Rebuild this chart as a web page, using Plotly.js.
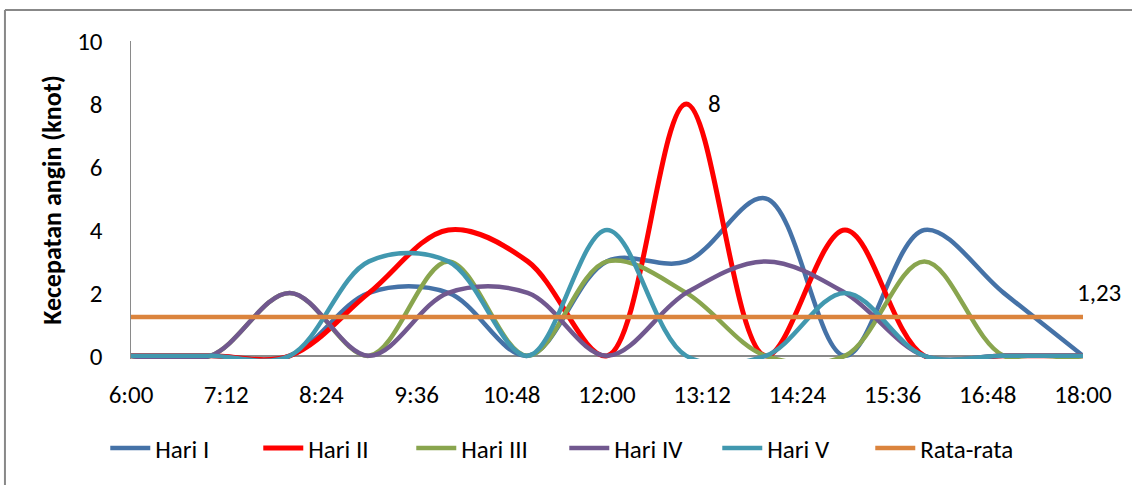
<!DOCTYPE html>
<html>
<head>
<meta charset="utf-8">
<script src="https://cdn.plot.ly/plotly-3.0.1.min.js"></script>
<style>
  html, body { margin: 0; padding: 0; background: #ffffff; }
  #chart { width: 1132px; height: 485px; }
</style>
</head>
<body>
<div id="chart"></div>
<script>
// Hours of observation (6:00 .. 18:00)
const hours = [6, 7, 8, 9, 10, 11, 12, 13, 14, 15, 16, 17, 18];
// Wind speed (knot) per day
const hariI   = [0, 0, 0, 2, 2, 0, 3, 3, 5, 0, 4, 2, 0];
const hariII  = [0, 0, 0, 2, 4, 3, 0, 8, 0, 4, 0, 0, 0];
const hariIII = [0, 0, 2, 0, 3, 0, 3, 2, 0, 0, 3, 0, 0];
const hariIV  = [0, 0, 2, 0, 2, 2, 0, 2, 3, 2, 0, 0, 0];
const hariV   = [0, 0, 0, 3, 3, 0, 4, 0, 0, 2, 0, 0, 0];
const rataRata = [1.23, 1.23, 1.23, 1.23, 1.23, 1.23, 1.23, 1.23, 1.23, 1.23, 1.23, 1.23, 1.23];
// X-axis tick labels
const tickVals = [6, 7.2, 8.4, 9.6, 10.8, 12, 13.2, 14.4, 15.6, 16.8, 18];
const tickText = ["6:00", "7:12", "8:24", "9:36", "10:48", "12:00", "13:12", "14:24", "15:36", "16:48", "18:00"];
const seriesNames = ["Hari I", "Hari II", "Hari III", "Hari IV", "Hari V", "Rata-rata"];

const FONT = "Carlito, Lato, 'Liberation Sans', sans-serif";
const FS = 25;
const colors = ["#4572A7", "#FF0000", "#89A54E", "#71588F", "#4198AF", "#DB843D"];
const allData = [hariI, hariII, hariIII, hariIV, hariV, rataRata];

const traces = allData.map((ys, i) => ({
  x: hours,
  y: ys,
  name: seriesNames[i],
  type: "scatter",
  mode: "lines",
  line: { color: colors[i], width: i === 1 ? 5 : 4.5, shape: i === 5 ? "linear" : "spline", smoothing: 1 },
  hoverinfo: "x+y+name"
}));

// data labels: max of Hari II and last value of Rata-rata
const maxII = Math.max(...hariII);
const idxMax = hariII.indexOf(maxII);
const lastRata = rataRata[rataRata.length - 1];

const layout = {
  width: 1132,
  height: 485,
  margin: { l: 131, r: 49, t: 41, b: 126 },
  paper_bgcolor: "#ffffff",
  plot_bgcolor: "#ffffff",
  font: { family: FONT, size: FS, color: "#000000" },
  showlegend: true,
  xaxis: {
    range: [6, 18],
    tickvals: tickVals,
    ticktext: tickText,
    showgrid: false,
    zeroline: false,
    showline: false,
    ticks: "",
    ticklabelstandoff: 18,
    tickfont: { family: FONT, size: FS, color: "#000" },
    fixedrange: true
  },
  yaxis: {
    range: [-0.1, 10],
    tickvals: [0, 2, 4, 6, 8, 10],
    showgrid: false,
    zeroline: true,
    zerolinecolor: "#8a8a8a",
    zerolinewidth: 2,
    showline: true,
    linecolor: "#8a8a8a",
    linewidth: 1.5,
    ticks: "",
    ticklabelstandoff: 22,
    tickfont: { family: FONT, size: FS, color: "#000" },
    title: { text: "<b>Kecepatan angin (knot)</b>", font: { family: FONT, size: 26, color: "#000" }, standoff: 8 },
    fixedrange: true
  },
  legend: {
    orientation: "h",
    xref: "container",
    yref: "container",
    x: 0.093,
    y: 0.076,
    xanchor: "left",
    yanchor: "middle",
    font: { family: FONT, size: FS, color: "#000" },
    bgcolor: "rgba(0,0,0,0)",
    itemwidth: 40,
    entrywidth: 98,
    entrywidthmode: "pixels"
  },
  annotations: [
    {
      x: hours[idxMax], y: maxII, xref: "x", yref: "y",
      text: String(maxII), showarrow: false,
      xanchor: "left", yanchor: "middle", xshift: 20, yshift: 0,
      font: { family: FONT, size: FS, color: "#000" }
    },
    {
      x: hours[hours.length - 1], y: lastRata, xref: "x", yref: "y",
      text: lastRata.toFixed(2).replace(".", ","), showarrow: false,
      xanchor: "center", yanchor: "middle", xshift: 16, yshift: 25,
      font: { family: FONT, size: FS, color: "#000" }
    }
  ],
  shapes: [
    { type: "line", xref: "paper", yref: "paper", x0: -0.1324, x1: 1.1, y0: 1.0975, y1: 1.0975, line: { color: "#888888", width: 2 } },
    { type: "line", xref: "paper", yref: "paper", x0: -0.1324, x1: -0.1324, y0: 1.0975, y1: -0.45, line: { color: "#888888", width: 2 } }
  ]
};

Plotly.newPlot("chart", traces, layout, { staticPlot: true, displayModeBar: false });
</script>
</body>
</html>
